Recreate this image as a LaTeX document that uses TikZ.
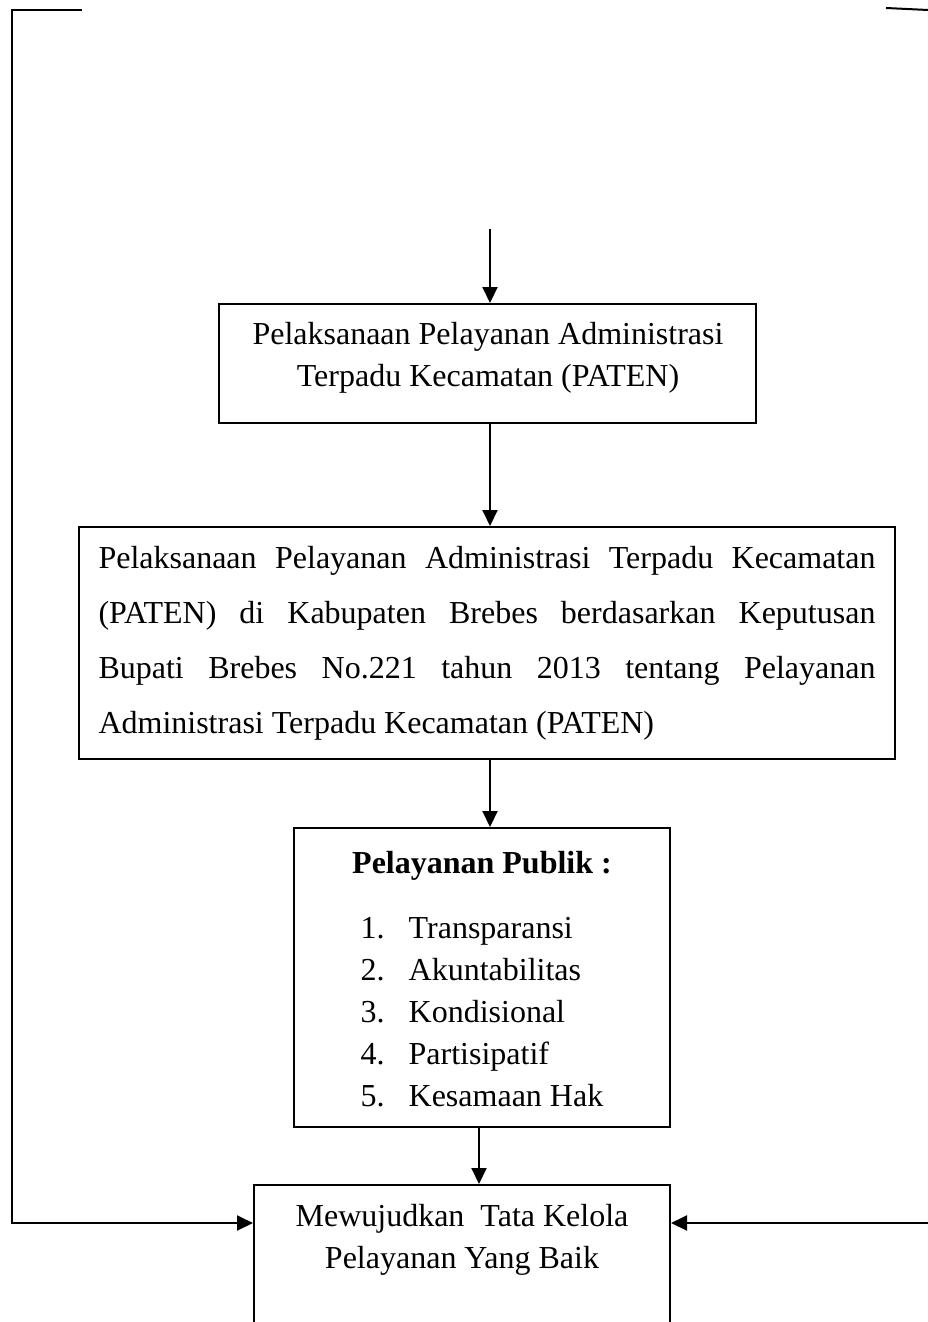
\documentclass[tikz,border=0pt]{standalone}
\usepackage{fontspec}
\setmainfont{Liberation Serif}
\usetikzlibrary{arrows.meta}
\begin{document}
\begin{tikzpicture}[x=1pt, y=-1pt, line width=2pt, >={Triangle[length=16pt,width=15pt]},
    every node/.style={font=\fontsize{32}{42}\selectfont, inner sep=0pt},
    kotak/.style={draw, line width=2pt}]
        \useasboundingbox (0,0) rectangle (928,1322);
        \clip (0,0) rectangle (928,1322);
        \node[kotak, minimum width=537pt, minimum height=119pt] (paten) at (487.5,363.5) {};
        \node[align=center] (patenteks) at (488,358) {Pelaksanaan Pelayanan Administrasi\\Terpadu Kecamatan (PATEN)};
        \node[kotak, minimum width=816pt, minimum height=232pt, text width=777pt, align=justify,
            font=\fontsize{32}{55}\selectfont] (perbup) at (487,643)
            {Pelaksanaan Pelayanan Administrasi Terpadu Kecamatan\linebreak
            (PATEN) di Kabupaten Brebes berdasarkan Keputusan\linebreak
            Bupati Brebes No.221 tahun 2013 tentang Pelayanan\linebreak
            Administrasi Terpadu Kecamatan (PATEN)};
        \node[kotak, minimum width=376pt, minimum height=299pt] (publik) at (482,977.5) {};
        \node[align=center] (publikteks) at (482,985) {\textbf{Pelayanan Publik :}\\[23pt]
            \begin{tabular}[t]{@{}l@{\hspace{24pt}}l@{}}
            1. & Transparansi\\
            2. & Akuntabilitas\\
            3. & Kondisional\\
            4. & Partisipatif\\
            5. & Kesamaan Hak
            \end{tabular}};
        \node[kotak, minimum width=416pt, minimum height=260pt, anchor=north] (hasil) at (462,1184) {};
        \node[align=center] (hasilteks) at (462,1240) {Mewujudkan\ \ Tata Kelola\\Pelayanan Yang Baik};
        \coordinate (awal) at (490,229);
        \coordinate (kiri1) at (82,10);
        \coordinate (kiri2) at (12,10);
        \coordinate (kiri3) at (12,1223);
        \coordinate (kanan) at (928,1223);
        \coordinate (kanan1) at (886,8);
        \coordinate (kanan2) at (928,10);
        \draw[->] (awal)--(awal |- paten.north);
        \draw[->] (awal |- paten.south)--(awal |- perbup.north);
        \draw[->] (awal |- perbup.south)--(awal |- publik.north);
        \draw[->] ([xshift=-3pt]publik.south)--([xshift=-3pt]publik.south |- hasil.north);
        \draw[->] (kiri1)--(kiri2)--(kiri3)--(kiri3 -| hasil.west);
        \draw[->] (kanan)--(kanan -| hasil.east);
        \draw (kanan1)--(kanan2);
    \end{tikzpicture}
\end{document}
